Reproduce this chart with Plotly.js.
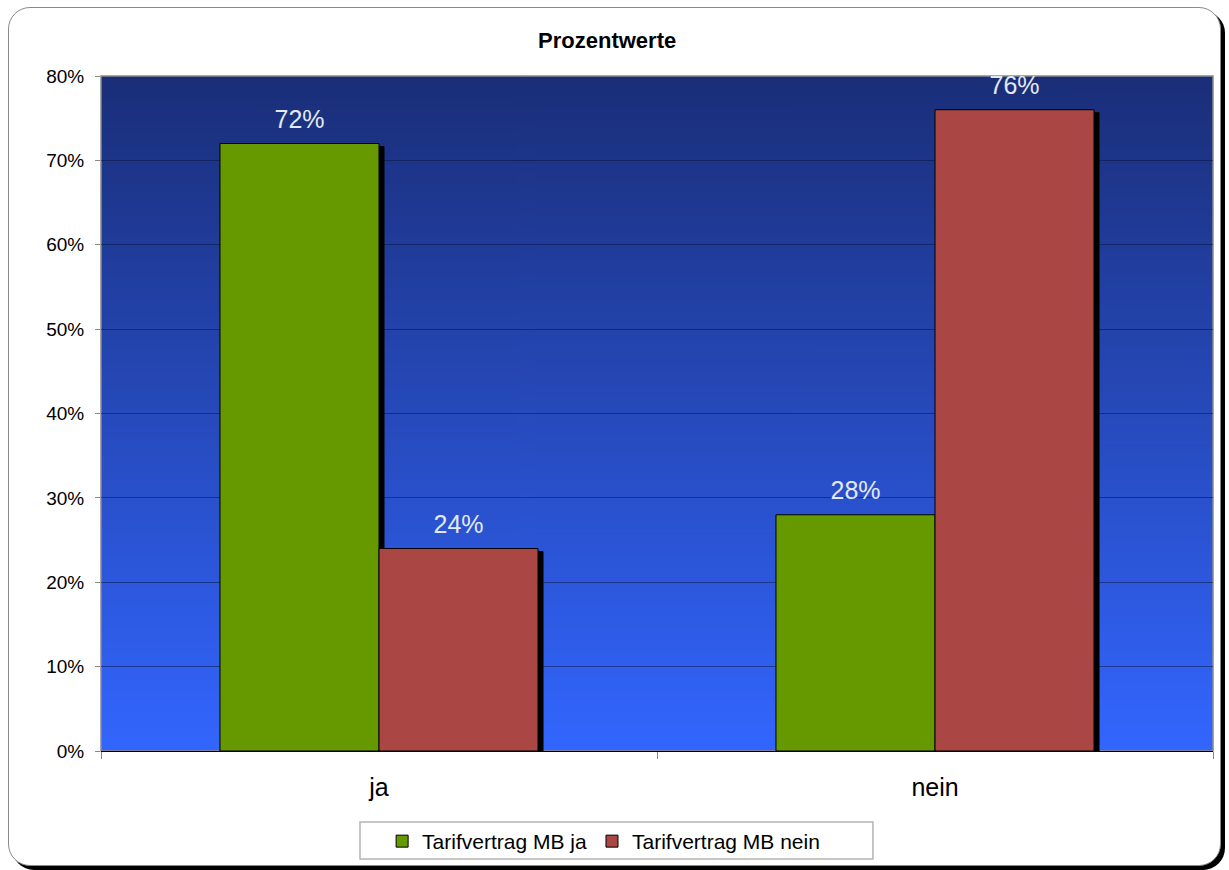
<!DOCTYPE html>
<html>
<head>
<meta charset="utf-8">
<script src="https://cdn.plot.ly/plotly-3.0.1.min.js"></script>
<style>
  html, body { margin: 0; padding: 0; background: #ffffff; }
  #wrap { position: relative; width: 1229px; height: 870px; overflow: hidden; }
  #frame {
    position: absolute; left: 8px; top: 7px; width: 1213px; height: 859px;
    box-sizing: border-box; border: 1px solid #8a8a8a; border-radius: 22px;
    background: #ffffff; box-shadow: 4px 4px 0 #000000;
  }
  #chart { position: absolute; left: 0; top: 0; width: 1229px; height: 870px; }
</style>
</head>
<body>
<svg width="0" height="0" style="position:absolute">
  <defs>
    <filter id="barshadow" x="-10%" y="-10%" width="130%" height="130%">
      <feDropShadow dx="5" dy="3" stdDeviation="0" flood-color="#000000" flood-opacity="1"/>
    </filter>
  </defs>
</svg>
<div id="wrap">
  <div id="frame"></div>
  <div id="chart"></div>
</div>
<script>
// Answer categories and the share of each group (percent)
const categories = ['ja', 'nein'];
const seriesNames = ['Tarifvertrag MB ja', 'Tarifvertrag MB nein'];
const valuesMBja = [72, 28];
const valuesMBnein = [24, 76];
const yTickValues = [0, 10, 20, 30, 40, 50, 60, 70, 80];

const FONT = 'Liberation Sans, Arial, sans-serif';

// Vertical gradient for the plot background (dark navy on top, bright blue at the bottom)
function gradientImage() {
  const cv = document.createElement('canvas');
  cv.width = 4; cv.height = 512;
  const ctx = cv.getContext('2d');
  const g = ctx.createLinearGradient(0, 0, 0, cv.height);
  g.addColorStop(0, '#1a2e78');
  g.addColorStop(1, '#3366ff');
  ctx.fillStyle = g;
  ctx.fillRect(0, 0, cv.width, cv.height);
  return cv.toDataURL('image/png');
}

function barTrace(name, values, color) {
  return {
    type: 'bar',
    name: name,
    x: categories,
    y: values,
    marker: { color: color, line: { color: '#000000', width: 1 } },
    texttemplate: '%{y}%',
    textposition: 'outside',
    cliponaxis: false,
    constraintext: 'none',
    textfont: { family: FONT, size: 25, color: '#e2e8f4' },
    hoverinfo: 'skip'
  };
}

const data = [
  barTrace(seriesNames[0], valuesMBja, '#669900'),
  barTrace(seriesNames[1], valuesMBnein, '#aa4745')
];

const layout = {
  width: 1229,
  height: 870,
  margin: { l: 101, r: 16, t: 76, b: 119, autoexpand: false },
  paper_bgcolor: 'rgba(0,0,0,0)',
  plot_bgcolor: 'rgba(0,0,0,0)',
  barmode: 'group',
  bargap: 0.428,
  bargroupgap: 0,
  title: {
    text: '<b>Prozentwerte</b>',
    font: { family: FONT, size: 22, color: '#000000' },
    x: 0.494, xref: 'container', xanchor: 'center',
    y: 1 - 40 / 870, yref: 'container', yanchor: 'middle'
  },
  xaxis: {
    type: 'category',
    showgrid: false,
    showline: true, linecolor: '#000000', linewidth: 1,
    ticks: 'outside', tickson: 'boundaries', ticklen: 7, tickcolor: '#888888',
    tickfont: { family: FONT, size: 25, color: '#000000' },
    ticklabelstandoff: 14,
    zeroline: false
  },
  yaxis: {
    range: [0, 80],
    tickvals: yTickValues,
    ticktext: yTickValues.map(v => v + '%'),
    showgrid: true, gridcolor: 'rgba(8,16,60,0.5)', gridwidth: 1,
    showline: false,
    ticks: 'outside', ticklen: 5, tickcolor: '#888888',
    tickfont: { family: FONT, size: 19, color: '#000000' },
    ticklabelstandoff: 7,
    zeroline: false
  },
  images: [{
    source: gradientImage(),
    xref: 'paper', yref: 'paper',
    x: 0, y: 1, sizex: 1, sizey: 1,
    xanchor: 'left', yanchor: 'top',
    sizing: 'stretch', layer: 'below'
  }],
  shapes: [
    {
      // plot area frame
      type: 'rect', xref: 'paper', yref: 'paper',
      x0: 0, x1: 1, y0: 0, y1: 1,
      line: { color: '#8a8a8a', width: 1.5 },
      fillcolor: 'rgba(0,0,0,0)', layer: 'below'
    },
    {
      // legend box
      type: 'rect', xref: 'paper', yref: 'paper',
      x0: 0.2329, x1: 0.6942, y0: -0.160, y1: -0.1052,
      line: { color: '#b4b4b4', width: 1.5 },
      fillcolor: '#ffffff', layer: 'below'
    }
  ],
  showlegend: true,
  legend: {
    orientation: 'h',
    x: 0.452, xanchor: 'center',
    y: 1 - 821 / 870, yref: 'container', yanchor: 'top',
    bgcolor: 'rgba(0,0,0,0)',
    borderwidth: 0,
    font: { family: FONT, size: 21, color: '#000000' },
    itemwidth: 30,
    traceorder: 'normal'
  }
};

// Drop shadow on the bars and a little more room between labels and bar tops
function decorate(gd) {
  gd.querySelectorAll('.barlayer .point path').forEach(p => {
    p.setAttribute('filter', 'url(#barshadow)');
  });
  gd.querySelectorAll('.barlayer text.bartext').forEach(t => {
    if (t.getAttribute('data-lifted') === '1') return;
    const tr = t.getAttribute('transform') || '';
    t.setAttribute('transform', 'translate(0,-8) ' + tr);
    t.setAttribute('data-lifted', '1');
  });
}

const gd = document.getElementById('chart');
Plotly.newPlot(gd, data, layout, { displayModeBar: false, staticPlot: true }).then(() => {
  decorate(gd);
  gd.on('plotly_afterplot', () => decorate(gd));
});
</script>
</body>
</html>
